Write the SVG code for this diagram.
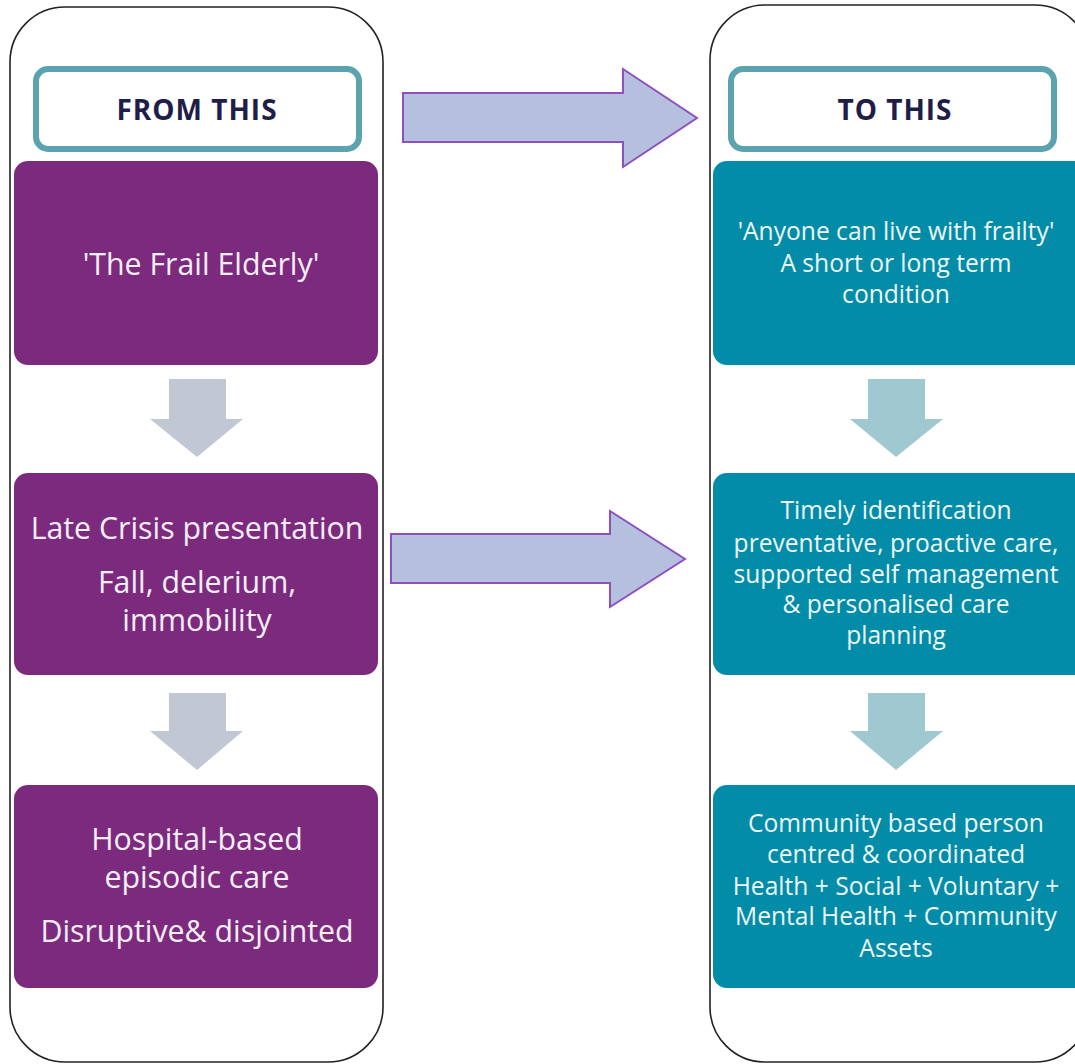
<svg xmlns="http://www.w3.org/2000/svg" width="1075" height="1064" viewBox="0 0 1075 1064">
<style>
.frame{fill:#fff;stroke:#222;stroke-width:1.6}
.hdr{fill:#fff;stroke:#5BA3AE;stroke-width:6}
.hdrt{font-family:"Open Sans","Liberation Sans",sans-serif;font-weight:bold;font-size:28px;letter-spacing:1px;fill:#1E1E48;text-anchor:middle}
.pbox{fill:#7B2A7E}
.tbox{fill:#028CA8}
.lt{font-family:"Open Sans","Liberation Sans",sans-serif;font-size:30.3px;fill:#F4EEF5;text-anchor:middle}
.rt{font-family:"Open Sans","Liberation Sans",sans-serif;font-size:24.6px;fill:#EEF6F8;text-anchor:middle}
.garr{fill:#C1C7D3}
.tarr{fill:#A0C8D0}
.big{fill:#B4C0DE;stroke:#8E4FBF;stroke-width:2}
</style>
<rect width="1075" height="1064" fill="#fff"/>
<g id="frame-left"><rect class="frame" x="10" y="7" width="373" height="1055" rx="55"/></g>
<g id="frame-right"><rect class="frame" x="710" y="5" width="380" height="1057" rx="55"/></g>
<g id="hdr-from"><rect class="hdr" x="36" y="69" width="323" height="80" rx="12"/><text class="hdrt" x="197" y="120">FROM THIS</text></g>
<g id="hdr-to"><rect class="hdr" x="731" y="69" width="323" height="80" rx="12"/><text class="hdrt" x="895" y="120">TO THIS</text></g>
<g id="l1"><rect class="pbox" x="14" y="161" width="364" height="204" rx="14"/><text class="lt" x="201" y="275">'The Frail Elderly'</text></g>
<g id="l2"><rect class="pbox" x="14" y="473" width="364" height="202" rx="14"/><text class="lt" x="197" y="539">Late Crisis presentation</text><text class="lt" x="197" y="593">Fall, delerium,</text><text class="lt" x="197" y="631">immobility</text></g>
<g id="l3"><rect class="pbox" x="14" y="785" width="364" height="203" rx="14"/><text class="lt" x="197" y="850">Hospital-based</text><text class="lt" x="197" y="888">episodic care</text><text class="lt" x="197" y="942">Disruptive&amp; disjointed</text></g>
<g id="r1"><rect class="tbox" x="713" y="161" width="380" height="204" rx="14"/><text class="rt" x="896" y="240">'Anyone can live with frailty'</text><text class="rt" x="896" y="272">A short or long term</text><text class="rt" x="896" y="303">condition</text></g>
<g id="r2"><rect class="tbox" x="713" y="473" width="380" height="202" rx="14"/><text class="rt" x="896" y="519">Timely identification</text><text class="rt" x="896" y="552">preventative, proactive care,</text><text class="rt" x="896" y="583">supported self management</text><text class="rt" x="896" y="613">&amp; personalised care</text><text class="rt" x="896" y="644">planning</text></g>
<g id="r3"><rect class="tbox" x="713" y="785" width="380" height="203" rx="14"/><text class="rt" x="896" y="832">Community based person</text><text class="rt" x="896" y="863">centred &amp; coordinated</text><text class="rt" x="896" y="895">Health + Social + Voluntary +</text><text class="rt" x="896" y="925">Mental Health + Community</text><text class="rt" x="896" y="957">Assets</text></g>
<g id="connectors">
<polygon class="garr" points="169,379 226,379 226,419 243,419 197,457 150,419 169,419"/>
<polygon class="garr" points="169,693 226,693 226,731 243,731 197,770 150,731 169,731"/>
<polygon class="tarr" points="868,379 925,379 925,419 943,419 896,457 850,419 868,419"/>
<polygon class="tarr" points="868,693 925,693 925,731 943,731 896,770 850,731 868,731"/>
<polygon class="big" points="403,93 623,93 623,69 697,118 623,167 623,142 403,142"/>
<polygon class="big" points="391,534 610,534 610,511 685,559 610,607 610,583 391,583"/>
</g>
</svg>
